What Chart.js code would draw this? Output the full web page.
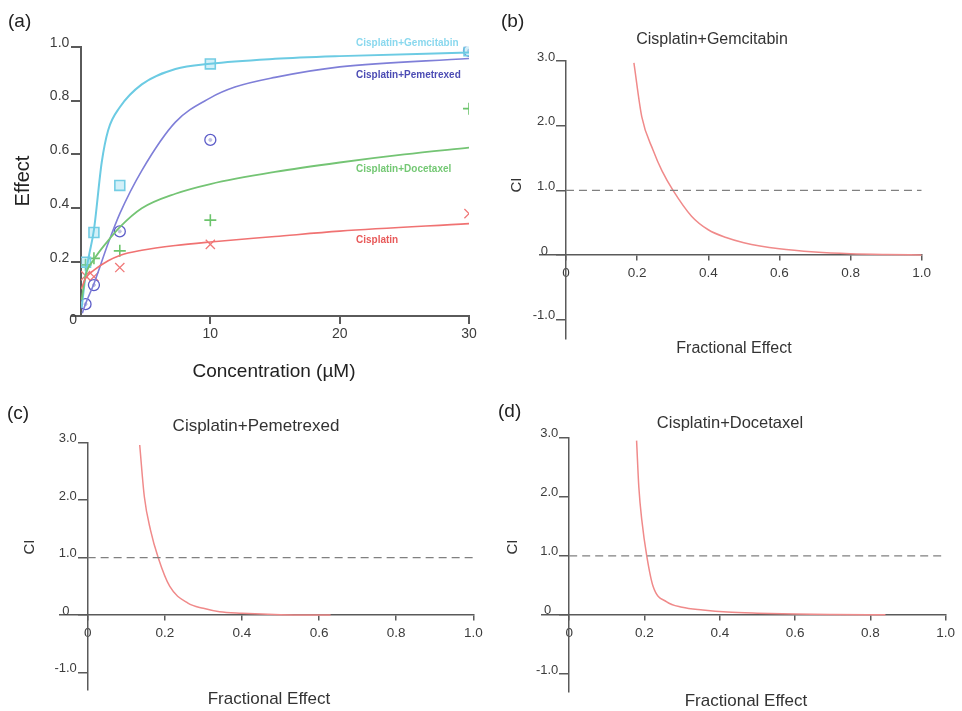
<!DOCTYPE html>
<html>
<head>
<meta charset="utf-8">
<script src="https://cdn.jsdelivr.net/npm/chart.js@4.4.0/dist/chart.umd.min.js"></script>
<style>
    body { margin: 0; background: #fff; font-family: 'Liberation Sans', Arial, sans-serif; }
    #wrap { position: relative; width: 962px; height: 711px; overflow: hidden; }
    canvas { position: absolute; left: 0; top: 0; }
    .txt { position: absolute; white-space: nowrap; color: #333; line-height: 1; }
    .c { transform: translate(-50%, -50%); }
    .rot { transform: translate(-50%, -50%) rotate(-90deg); }
    .panel { font-size: 19px; color: #222; }
    .series { font-size: 10px; font-weight: bold; transform: translateY(-50%); }
</style>
</head>
<body>
<div id="wrap">
    <canvas id="chartA" width="962" height="711"></canvas>
    <canvas id="chartB" width="962" height="711"></canvas>
    <canvas id="chartC" width="962" height="711"></canvas>
    <canvas id="chartD" width="962" height="711"></canvas>

    <!-- panel (a) -->
    <div class="txt panel" style="left:8px;top:11px;">(a)</div>
    <div class="txt rot" style="left:22px;top:181px;font-size:20px;color:#222;">Effect</div>
    <div class="txt c" style="left:274px;top:370px;font-size:19px;color:#222;">Concentration (µM)</div>
    <div class="txt series" style="left:356px;top:43px;color:#8ad8ee;">Cisplatin+Gemcitabin</div>
    <div class="txt series" style="left:356px;top:75px;color:#4c4cb4;">Cisplatin+Pemetrexed</div>
    <div class="txt series" style="left:356px;top:169px;color:#74c874;">Cisplatin+Docetaxel</div>
    <div class="txt series" style="left:356px;top:240px;color:#e85a5a;">Cisplatin</div>

    <!-- panel (b) -->
    <div class="txt panel" style="left:501px;top:11px;">(b)</div>
    <div class="txt c" style="left:712px;top:39px;font-size:16px;">Cisplatin+Gemcitabin</div>
    <div class="txt rot" style="left:515px;top:185px;font-size:15px;">CI</div>
    <div class="txt c" style="left:734px;top:348px;font-size:16px;">Fractional Effect</div>

    <!-- panel (c) -->
    <div class="txt panel" style="left:7px;top:403px;">(c)</div>
    <div class="txt c" style="left:256px;top:425px;font-size:17px;">Cisplatin+Pemetrexed</div>
    <div class="txt rot" style="left:28px;top:547px;font-size:15px;">CI</div>
    <div class="txt c" style="left:269px;top:698px;font-size:17px;">Fractional Effect</div>

    <!-- panel (d) -->
    <div class="txt panel" style="left:498px;top:401px;">(d)</div>
    <div class="txt c" style="left:730px;top:422px;font-size:16.5px;">Cisplatin+Docetaxel</div>
    <div class="txt rot" style="left:511px;top:547px;font-size:15px;">CI</div>
    <div class="txt c" style="left:746px;top:700px;font-size:17px;">Fractional Effect</div>
</div>

<script>
// Panel (a) - measured points (concentration in µM)
const concPoints = [0.35, 1, 3, 10, 30];
const gemEffect = [0.20, 0.31, 0.485, 0.936, 0.985];
const pemEffect = [0.044, 0.115, 0.314, 0.654, 0.985];
const docEffect = [0.19, 0.214, 0.242, 0.356, 0.77];
const cisEffect = [0.15, 0.146, 0.18, 0.266, 0.38];

// Panel (a) - fitted curves
const gemCurveX = [0.05, 0.35, 0.6, 1, 1.6, 2.1, 3, 4.7, 7.3, 10, 15, 20, 30];
const gemCurveY = [0.03, 0.15, 0.22, 0.32, 0.57, 0.69, 0.775, 0.86, 0.917, 0.937, 0.955, 0.965, 0.978];
const pemCurveX = [0.1, 0.35, 1, 2.1, 3, 4.7, 7.3, 10, 11.9, 15, 20, 30];
const pemCurveY = [0.01, 0.045, 0.12, 0.27, 0.38, 0.54, 0.72, 0.81, 0.85, 0.886, 0.925, 0.956];
const docCurveX = [0.05, 0.35, 1, 2.1, 3, 4.7, 7.3, 10, 15, 20, 25, 30];
const docCurveY = [0.06, 0.15, 0.21, 0.28, 0.33, 0.40, 0.454, 0.49, 0.535, 0.57, 0.60, 0.625];
const cisCurveX = [0.02, 0.35, 1, 2.1, 3, 4.7, 7.3, 10, 15, 20, 30];
const cisCurveY = [0.10, 0.14, 0.17, 0.205, 0.225, 0.244, 0.262, 0.275, 0.295, 0.315, 0.343];

const effectTicks = [0, 0.2, 0.4, 0.6, 0.8, 1.0];
const concTicks = [10, 20, 30]; // the shared "0" at the origin comes from the y axis

// Panels (b)-(d) - combination index vs fractional effect
const gemFa = [0.191, 0.213, 0.245, 0.27, 0.301, 0.353, 0.4, 0.45, 0.5, 0.6, 0.7, 0.8, 0.9, 1.0];
const gemCi = [2.97, 2.14, 1.62, 1.3, 1.0, 0.6, 0.39, 0.27, 0.19, 0.095, 0.045, 0.018, 0.006, 0];
const pemFa = [0.135, 0.147, 0.163, 0.183, 0.213, 0.26, 0.3, 0.342, 0.4, 0.5, 0.63];
const pemCi = [2.96, 2.06, 1.48, 1.0, 0.5, 0.21, 0.12, 0.06, 0.035, 0.01, 0.003];
const docFa = [0.179, 0.185, 0.193, 0.206, 0.223, 0.259, 0.3, 0.355, 0.42, 0.5, 0.6, 0.7, 0.84];
const docCi = [2.95, 2.16, 1.6, 1.0, 0.48, 0.22, 0.13, 0.085, 0.05, 0.03, 0.015, 0.008, 0.003];

const ciRefLevel = 1.0;
const faTicks = [0, 0.2, 0.4, 0.6, 0.8, 1.0];
const ciTicks = [3, 2, 1, 0, -1];

const axisColor = '#5a5a5a';

function pts(xs, ys) {
    return xs.map((x, i) => ({ x: x, y: ys[i] }));
}

function curve(xs, ys, color, width) {
    return {
        data: pts(xs, ys),
        showLine: true,
        borderColor: color,
        borderWidth: width || 1.6,
        pointRadius: 0,
        cubicInterpolationMode: 'monotone',
        fill: false
    };
}

function markers(ys, style, color, fill, radius, width) {
    return {
        data: pts(concPoints, ys),
        showLine: false,
        pointStyle: style,
        pointRadius: radius,
        borderColor: color,
        backgroundColor: fill,
        pointBorderWidth: width
    };
}

function fixedTicks(values) {
    return scale => { scale.ticks = values.map(v => ({ value: v })); };
}

// y axes pinned at x=0 put their labels right on the line, so pad with spaces
const gap = n => ' '.repeat(n);

// shared axis look: border line plus short outside tick marks, no grid
function axis(opts) {
    return {
        type: 'linear',
        min: opts.min,
        max: opts.max,
        position: opts.position,
        afterBuildTicks: fixedTicks(opts.ticks),
        border: { display: true, color: axisColor, width: opts.lineWidth || 1.5 },
        grid: {
            display: true,
            drawOnChartArea: false,
            drawTicks: true,
            tickLength: opts.tickLength,
            color: axisColor,
            lineWidth: opts.lineWidth || 1.5
        },
        ticks: {
            color: '#3c3c3c',
            font: { family: 'Liberation Sans', size: opts.fontSize },
            padding: opts.padding,
            labelOffset: opts.labelOffset || 0,
            callback: opts.format
        }
    };
}

const baseOptions = {
    responsive: false,
    animation: false,
    events: [],
    plugins: { legend: { display: false }, tooltip: { enabled: false } }
};

// Panel (a) - dose-response curves
new Chart(document.getElementById('chartA'), {
    type: 'scatter',
    data: {
        datasets: [
            curve(cisCurveX, cisCurveY, '#f07272', 1.6),
            curve(docCurveX, docCurveY, '#74c474', 1.8),
            curve(pemCurveX, pemCurveY, '#7f7fd8', 1.6),
            curve(gemCurveX, gemCurveY, '#6ccbe3', 2),
            markers(gemEffect, 'rect', '#74cde4', 'rgba(130,212,236,0.35)', 7, 1.6),
            markers(pemEffect, 'circle', '#5c5cc8', 'rgba(255,255,255,0.7)', 5.5, 1.3),
            markers(pemEffect, 'circle', '#2a2a9c', '#2a2a9c', 1.5, 1),
            markers(docEffect, 'cross', '#6cc46c', '#6cc46c', 6, 1.6),
            markers(cisEffect, 'crossRot', '#f07878', '#f07878', 6.5, 1.3)
        ]
    },
    options: {
        ...baseOptions,
        layout: { padding: { left: 81, right: 493, top: 46.7, bottom: 395 } },
        scales: {
            x: axis({
                min: 0, max: 30, position: { y: 0 }, ticks: concTicks,
                tickLength: 7, fontSize: 14, padding: 3, lineWidth: 2,
                format: v => String(v)
            }),
            y: axis({
                min: 0, max: 1, position: { x: 0 }, ticks: effectTicks,
                tickLength: 9, fontSize: 14, padding: 3, lineWidth: 2, labelOffset: -4,
                format: v => (v === 0 ? ['', '0' + gap(1)] : v.toFixed(1) + gap(3))
            })
        }
    }
});

// Panels (b)-(d) - combination index plots
function makeCiChart(canvasId, fa, ci, area) {
    new Chart(document.getElementById(canvasId), {
        type: 'scatter',
        data: {
            datasets: [
                {
                    data: [{ x: faTicks[0], y: ciRefLevel }, { x: faTicks[faTicks.length - 1], y: ciRefLevel }],
                    showLine: true,
                    borderColor: '#808080',
                    borderWidth: 1.2,
                    borderDash: [8, 5],
                    pointRadius: 0
                },
                curve(fa, ci, '#f08a8a', 1.5)
            ]
        },
        options: {
            ...baseOptions,
            layout: { padding: area },
            scales: {
                x: axis({
                    min: -0.073, max: 1.0, position: { y: 0 }, ticks: faTicks,
                    tickLength: 5, fontSize: 13.5, padding: 5,
                    format: v => (v === 0 ? '0' : v.toFixed(1))
                }),
                y: axis({
                    min: -1.3, max: 3.0, position: { x: 0 }, ticks: ciTicks,
                    tickLength: 9, fontSize: 13, padding: 3, labelOffset: -4,
                    format: v => (v === 0 ? '0' + gap(5) : v.toFixed(1) + gap(3))
                })
            }
        }
    });
}

makeCiChart('chartB', gemFa, gemCi, { left: 540, right: 40.3, top: 61, bottom: 372 });
makeCiChart('chartC', pemFa, pemCi, { left: 59.5, right: 488.7, top: 442.7, bottom: 21 });
makeCiChart('chartD', docFa, docCi, { left: 541.7, right: 16.3, top: 437.7, bottom: 19.3 });
</script>
</body>
</html>
